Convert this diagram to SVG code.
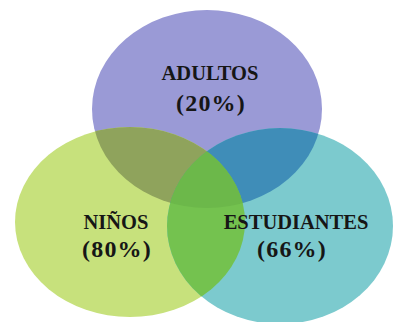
<svg xmlns="http://www.w3.org/2000/svg" width="394" height="322" viewBox="0 0 394 322">
<style>
.lbl{font-family:"Liberation Serif","Times New Roman",serif;font-weight:bold;fill:#161616;text-anchor:middle}
.name{font-size:20.5px}
.pct{font-size:24px;letter-spacing:1.2px}
</style>
<defs>
<clipPath id="cP"><ellipse cx="207" cy="109" rx="115" ry="99"/></clipPath>
<clipPath id="cG"><ellipse cx="130" cy="222" rx="115" ry="95"/></clipPath>
</defs>
<rect width="394" height="322" fill="#ffffff"/>
<g id="adultos">
<ellipse cx="207" cy="109" rx="115" ry="99" fill="#9a9ad6"/>
</g>
<g id="ninos">
<ellipse cx="130" cy="222" rx="115" ry="95" fill="#c7e17c"/>
</g>
<g id="estudiantes">
<ellipse cx="280" cy="226" rx="113" ry="98" fill="#7ccace"/>
</g>
<g id="overlaps">
<ellipse cx="130" cy="222" rx="115" ry="95" fill="#8fa35c" clip-path="url(#cP)"/>
<ellipse cx="280" cy="226" rx="113" ry="98" fill="#3f8db8" clip-path="url(#cP)"/>
<ellipse cx="280" cy="226" rx="113" ry="98" fill="#74c24f" clip-path="url(#cG)"/>
<g clip-path="url(#cP)">
<ellipse cx="280" cy="226" rx="113" ry="98" fill="#6cb84a" clip-path="url(#cG)"/>
</g>
</g>
<g id="labels">
<text class="lbl name" x="210" y="80">ADULTOS</text>
<text class="lbl pct" x="211" y="111">(20%)</text>
<text class="lbl name" x="116" y="229">NIÑOS</text>
<text class="lbl pct" x="117" y="257">(80%)</text>
<text class="lbl name" x="296" y="229">ESTUDIANTES</text>
<text class="lbl pct" x="292" y="257">(66%)</text>
</g>
</svg>
